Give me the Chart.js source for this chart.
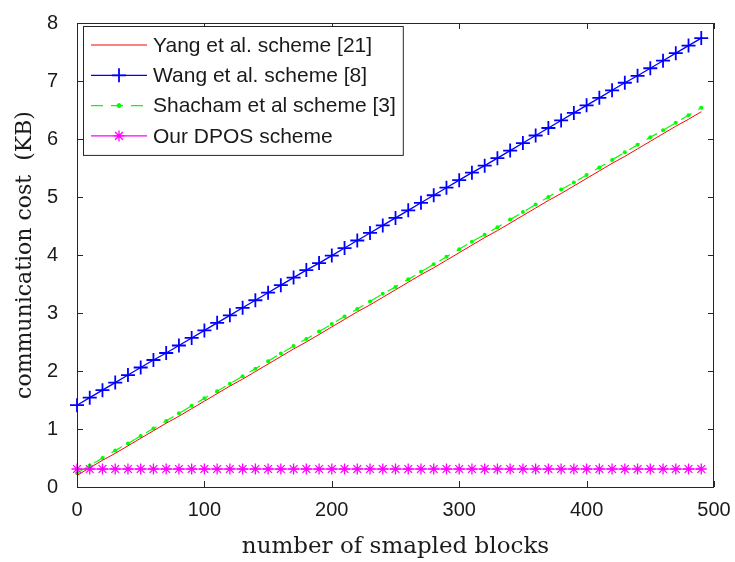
<!DOCTYPE html>
<html>
<head>
<meta charset="utf-8">
<title>communication cost</title>
<script src="https://cdn.jsdelivr.net/npm/chart.js"></script>
<style>
    body { margin: 0; background: #ffffff; }
    #wrap { width: 735px; height: 562px; }
</style>
</head>
<body>
<div id="wrap"><canvas id="costChart" width="735" height="562"></canvas></div>
<script>
// ============================================
// DATA
// ============================================

const blocks = [0, 10, 20, 30, 40, 50, 60, 70, 80, 90,
    100, 110, 120, 130, 140, 150, 160, 170, 180, 190,
    200, 210, 220, 230, 240, 250, 260, 270, 280, 290,
    300, 310, 320, 330, 340, 350, 360, 370, 380, 390,
    400, 410, 420, 430, 440, 450, 460, 470, 480, 490];

const yangCost = [0.20, 0.33, 0.46, 0.58, 0.71, 0.84, 0.97, 1.10, 1.22, 1.35,
    1.48, 1.61, 1.74, 1.86, 1.99, 2.12, 2.25, 2.38, 2.50, 2.63,
    2.76, 2.89, 3.02, 3.14, 3.27, 3.40, 3.53, 3.66, 3.78, 3.91,
    4.04, 4.17, 4.30, 4.42, 4.55, 4.68, 4.81, 4.94, 5.06, 5.19,
    5.32, 5.45, 5.58, 5.70, 5.83, 5.96, 6.09, 6.22, 6.34, 6.47];

const wangCost = [1.41, 1.54, 1.67, 1.80, 1.93, 2.06, 2.19, 2.31, 2.44, 2.57,
    2.70, 2.83, 2.96, 3.09, 3.22, 3.35, 3.48, 3.61, 3.74, 3.86,
    3.99, 4.12, 4.25, 4.38, 4.51, 4.64, 4.77, 4.90, 5.03, 5.16,
    5.29, 5.42, 5.54, 5.67, 5.80, 5.93, 6.06, 6.19, 6.32, 6.45,
    6.58, 6.71, 6.84, 6.97, 7.09, 7.22, 7.35, 7.48, 7.61, 7.74];

const shachamCost = [0.24, 0.37, 0.50, 0.63, 0.75, 0.88, 1.01, 1.14, 1.27, 1.40,
    1.53, 1.65, 1.78, 1.91, 2.04, 2.17, 2.30, 2.43, 2.55, 2.68,
    2.81, 2.94, 3.07, 3.20, 3.33, 3.45, 3.58, 3.71, 3.84, 3.97,
    4.10, 4.23, 4.35, 4.48, 4.61, 4.74, 4.87, 5.00, 5.13, 5.25,
    5.38, 5.51, 5.64, 5.77, 5.90, 6.03, 6.15, 6.28, 6.41, 6.54];

const dposCost = [0.31, 0.31, 0.31, 0.31, 0.31, 0.31, 0.31, 0.31, 0.31, 0.31,
    0.31, 0.31, 0.31, 0.31, 0.31, 0.31, 0.31, 0.31, 0.31, 0.31,
    0.31, 0.31, 0.31, 0.31, 0.31, 0.31, 0.31, 0.31, 0.31, 0.31,
    0.31, 0.31, 0.31, 0.31, 0.31, 0.31, 0.31, 0.31, 0.31, 0.31,
    0.31, 0.31, 0.31, 0.31, 0.31, 0.31, 0.31, 0.31, 0.31, 0.31];

const seriesNames = ["Yang et al. scheme [21]", "Wang et al. scheme [8]",
    "Shacham et al scheme [3]", "Our DPOS scheme"];

const xTicks = [0, 100, 200, 300, 400, 500];
const yTicks = [0, 1, 2, 3, 4, 5, 6, 7, 8];

const xTitle = "number of smapled blocks";
const yTitle = "communication cost  (KB)";

// ============================================
// STYLE
// ============================================

const axisColor = "#262626";
const sansFont = "'Liberation Sans', Arial, sans-serif";
const serifFont = "'DejaVu Serif', serif";

function toPoints(values) {
    return blocks.map((b, i) => ({ x: b, y: values[i] }));
}

/**
 * Draw a small MATLAB-like marker (used by the legend)
 */
function drawMarker(ctx, style, x, y, r, color, width) {
    ctx.save();
    ctx.strokeStyle = color;
    ctx.fillStyle = color;
    ctx.lineWidth = width;
    ctx.beginPath();
    if (style === "cross" || style === "star") {
        ctx.moveTo(x - r, y); ctx.lineTo(x + r, y);
        ctx.moveTo(x, y - r); ctx.lineTo(x, y + r);
    }
    if (style === "star") {
        const d = r * Math.SQRT1_2;
        ctx.moveTo(x - d, y - d); ctx.lineTo(x + d, y + d);
        ctx.moveTo(x - d, y + d); ctx.lineTo(x + d, y - d);
    }
    if (style === "circle") {
        ctx.arc(x, y, r, 0, Math.PI * 2);
        ctx.fill();
    }
    ctx.stroke();
    ctx.restore();
}

// Box round the plot with inward ticks on all four sides
const framePlugin = {
    id: "frame",
    afterDraw(chart) {
        const { ctx, chartArea: a, scales } = chart;
        const len = 6;
        ctx.save();
        ctx.strokeStyle = axisColor;
        ctx.lineWidth = 1;
        ctx.strokeRect(a.left + 0.5, a.top + 0.5, a.right - a.left - 1, a.bottom - a.top);
        ctx.beginPath();
        xTicks.forEach(v => {
            const px = Math.round(scales.x.getPixelForValue(v)) + 0.5;
            ctx.moveTo(px, a.bottom); ctx.lineTo(px, a.bottom - len);
            ctx.moveTo(px, a.top); ctx.lineTo(px, a.top + len);
        });
        yTicks.forEach(v => {
            const py = Math.round(scales.y.getPixelForValue(v)) + 0.5;
            ctx.moveTo(a.left, py); ctx.lineTo(a.left + len, py);
            ctx.moveTo(a.right, py); ctx.lineTo(a.right - len, py);
        });
        ctx.stroke();
        ctx.restore();
    }
};

// MATLAB style legend box in the upper left corner
const legendPlugin = {
    id: "boxLegend",
    afterDraw(chart) {
        const ctx = chart.ctx;
        const left = 83, top = 26, rowH = 30.3, firstRow = 19;
        const textX = left + 70;
        ctx.save();
        ctx.font = "21px " + sansFont;
        let maxW = 0;
        seriesNames.forEach(n => { maxW = Math.max(maxW, ctx.measureText(n).width); });
        const boxW = textX + maxW + 7 - left;
        const boxH = firstRow * 2 + rowH * 3;

        ctx.fillStyle = "#ffffff";
        ctx.fillRect(left, top, boxW, boxH);
        ctx.strokeStyle = axisColor;
        ctx.lineWidth = 1;
        ctx.strokeRect(left + 0.5, top + 0.5, boxW, boxH);

        chart.data.datasets.forEach((ds, i) => {
            const y = top + firstRow + i * rowH;
            ctx.save();
            ctx.strokeStyle = ds.borderColor;
            ctx.lineWidth = ds.borderWidth;
            ctx.setLineDash(ds.borderDash || []);
            ctx.beginPath();
            ctx.moveTo(left + 8, y);
            ctx.lineTo(left + 64, y);
            ctx.stroke();
            ctx.restore();
            if (ds.pointRadius > 0) {
                drawMarker(ctx, ds.pointStyle, left + 36, y, ds.pointRadius,
                    ds.borderColor, ds.pointBorderWidth || 1);
            }
            ctx.fillStyle = "#1a1a1a";
            ctx.textBaseline = "middle";
            ctx.textAlign = "left";
            ctx.fillText(seriesNames[i], textX, y + 1);
        });
        ctx.restore();
    }
};

const ctx = document.getElementById("costChart").getContext("2d");
const costChart = new Chart(ctx, {
    type: "line",
    data: {
        datasets: [
            {
                label: seriesNames[0],
                data: toPoints(yangCost),
                borderColor: "#ff0000",
                borderWidth: 1,
                pointRadius: 0,
                order: 2
            },
            {
                label: seriesNames[1],
                data: toPoints(wangCost),
                borderColor: "#0000ff",
                borderWidth: 1.3,
                pointStyle: "cross",
                pointRadius: 7,
                pointBorderColor: "#0000ff",
                pointBorderWidth: 1.8,
                order: 1
            },
            {
                label: seriesNames[2],
                data: toPoints(shachamCost),
                borderColor: "#00ff00",
                borderWidth: 1.2,
                borderDash: [12, 8],
                pointStyle: "circle",
                pointRadius: 2,
                pointBackgroundColor: "#00ff00",
                pointBorderColor: "#00ff00",
                pointBorderWidth: 0,
                order: 3
            },
            {
                label: seriesNames[3],
                data: toPoints(dposCost),
                borderColor: "#ff00ff",
                borderWidth: 1.2,
                pointStyle: "star",
                pointRadius: 5.5,
                pointBorderColor: "#ff00ff",
                pointBorderWidth: 1.3,
                order: 0
            }
        ]
    },
    options: {
        responsive: false,
        animation: false,
        clip: false,
        elements: { line: { tension: 0, fill: false } },
        layout: { padding: { left: 0, right: 21, top: 17, bottom: 0 } },
        plugins: {
            legend: { display: false },
            tooltip: { enabled: false }
        },
        scales: {
            x: {
                type: "linear",
                min: 0,
                max: 500,
                afterFit(scale) { scale.height = 75; },
                afterBuildTicks(scale) { scale.ticks = xTicks.map(v => ({ value: v })); },
                grid: { display: false },
                border: { display: false },
                ticks: {
                    padding: 3,
                    color: "#1a1a1a",
                    font: { family: sansFont, size: 20 }
                },
                title: {
                    display: true,
                    text: xTitle,
                    color: "#1a1a1a",
                    font: { family: serifFont, size: 23 },
                    padding: { top: 0, bottom: 1 }
                }
            },
            y: {
                min: 0,
                max: 8,
                afterFit(scale) { scale.width = 77; },
                afterBuildTicks(scale) { scale.ticks = yTicks.map(v => ({ value: v })); },
                grid: { display: false },
                border: { display: false },
                ticks: {
                    padding: 11,
                    color: "#1a1a1a",
                    font: { family: sansFont, size: 20 }
                },
                title: {
                    display: true,
                    text: yTitle,
                    color: "#1a1a1a",
                    font: { family: serifFont, size: 22 },
                    padding: { top: 12, bottom: 0 }
                }
            }
        }
    },
    plugins: [framePlugin, legendPlugin]
});
</script>
</body>
</html>
